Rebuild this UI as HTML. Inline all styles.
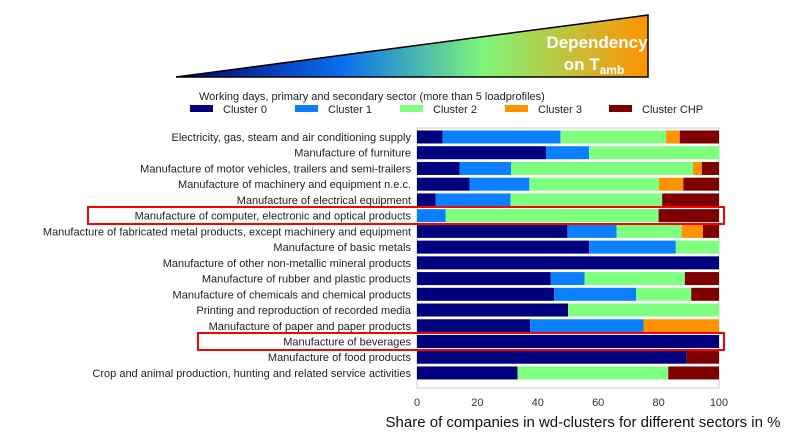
<!DOCTYPE html>
<html><head><meta charset="utf-8"><style>
body{margin:0;width:800px;height:438px;background:#fff;overflow:hidden}
svg text{font-family:"Liberation Sans",Arial,sans-serif}
</style></head><body>
<svg id="chart" width="800" height="438" xmlns="http://www.w3.org/2000/svg">
<defs><linearGradient id="g" x1="0" x2="1" y1="0" y2="0">
<stop offset="0" stop-color="#00006a"/><stop offset="0.35" stop-color="#0a6df0"/><stop offset="0.65" stop-color="#7ff57a"/><stop offset="1" stop-color="#ff9200"/></linearGradient></defs>
<polygon points="176,77 648,15 648,77" fill="url(#g)" stroke="#000" stroke-width="1.5"/>
<text x="597" y="48" fill="#fff" font-weight="bold" font-size="17" text-anchor="middle">Dependency</text>
<text x="594" y="70" fill="#fff" font-weight="bold" font-size="17" text-anchor="middle">on T<tspan font-size="12" dy="4">amb</tspan></text>
<text x="199" y="100" font-size="11" fill="#222">Working days, primary and secondary sector (more than 5 loadprofiles)</text>
<g id="legend"></g>
<rect x="417" y="128" width="302" height="260" fill="none" stroke="#ccc"/>
<g id="bars"></g><g id="labels"></g><g id="ticks"></g>
<text x="583" y="427" font-size="15" text-anchor="middle" fill="#111">Share of companies in wd-clusters for different sectors in %</text>
<rect x="88" y="207" width="636" height="17" fill="none" stroke="#f00" stroke-width="2"/>
<rect x="198" y="333" width="526" height="17" fill="none" stroke="#f00" stroke-width="2"/>
</svg>
<script>
const categories=["Electricity, gas, steam and air conditioning supply","Manufacture of furniture","Manufacture of motor vehicles, trailers and semi-trailers","Manufacture of machinery and equipment n.e.c.","Manufacture of electrical equipment","Manufacture of computer, electronic and optical products","Manufacture of fabricated metal products, except machinery and equipment","Manufacture of basic metals","Manufacture of other non-metallic mineral products","Manufacture of rubber and plastic products","Manufacture of chemicals and chemical products","Printing and reproduction of recorded media","Manufacture of paper and paper products","Manufacture of beverages","Manufacture of food products","Crop and animal production, hunting and related service activities"];
const seriesNames=["Cluster 0","Cluster 1","Cluster 2","Cluster 3","Cluster CHP"];
const cluster0=[8.5,42.7,14.1,17.4,6.2,0,49.8,57,100,44.3,45.4,50,37.5,100,89.3,33.3];
const cluster1=[39,14.3,17.1,19.8,24.8,9.5,16.3,28.7,0,11.2,27.2,0,37.5,0,0,0];
const cluster2=[35,43,60.2,42.9,50.2,70.5,21.5,14.3,0,33.2,18.2,50,0,0,0,49.9];
const cluster3=[4.5,0,2.9,8.1,0,0,7.1,0,0,0,0,0,25,0,0,0];
const clusterCHP=[13,0,5.7,11.8,18.8,20,5.3,0,0,11.3,9.2,0,0,0,10.7,16.8];
const tickLabels=[0,20,40,60,80,100];
const colors=["#00007f","#0a80ff","#7fff7f","#ff9200","#7f0000"];
const NS="http://www.w3.org/2000/svg";
const x=v=>417+v*3.02, y=i=>137+i*15.73;
const series=[cluster0,cluster1,cluster2,cluster3,clusterCHP];
const bars=document.getElementById('bars'),labels=document.getElementById('labels'),ticks=document.getElementById('ticks'),legend=document.getElementById('legend');
categories.forEach((c,i)=>{
 let acc=0;
 series.forEach((s,k)=>{
  if(s[i]>0){const r=document.createElementNS(NS,'rect');
  
  
  r.setAttribute('x',x(acc));r.setAttribute('width',x(acc+s[i])-x(acc));r.setAttribute('y',y(i)-6.5);r.setAttribute('height',13);r.setAttribute('fill',colors[k]);bars.appendChild(r);}
  acc+=s[i];
 });
 const t=document.createElementNS(NS,'text');
 
 
 t.setAttribute('x',411);t.setAttribute('y',y(i)+4);t.setAttribute('text-anchor','end');t.setAttribute('font-size','11');t.setAttribute('fill','#222');t.textContent=c;labels.appendChild(t);
});
tickLabels.forEach(v=>{const t=document.createElementNS(NS,'text');
 
 
 t.setAttribute('x',x(v));t.setAttribute('y',406);t.setAttribute('text-anchor','middle');t.setAttribute('font-size','11');t.setAttribute('fill','#333');t.textContent=v;ticks.appendChild(t);});
const lx=[190,295,400,505,609];
seriesNames.forEach((n,k)=>{const r=document.createElementNS(NS,'rect');
 
 
 r.setAttribute('x',lx[k]);r.setAttribute('y',105);r.setAttribute('width',23);r.setAttribute('height',7);r.setAttribute('fill',colors[k]);legend.appendChild(r);
 const t=document.createElementNS(NS,'text');
 
 
 t.setAttribute('x',lx[k]+33);t.setAttribute('y',113);t.setAttribute('font-size','11');t.setAttribute('fill','#222');t.textContent=n;legend.appendChild(t);});
</script>
</body></html>
